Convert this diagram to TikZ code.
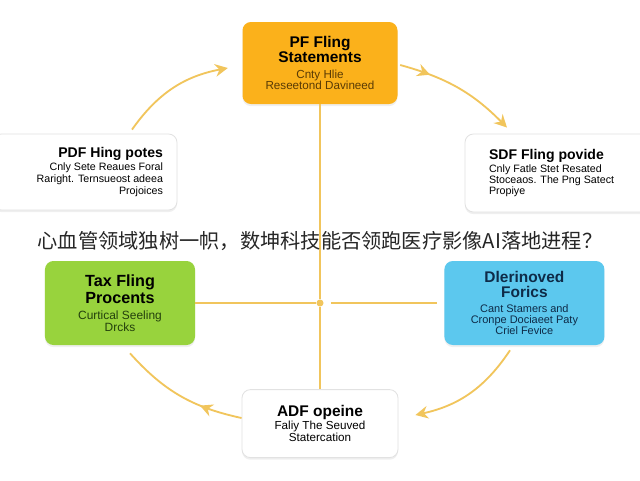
\documentclass[tikz,border=0pt]{standalone}
\usepackage{fontspec}
\setmainfont{Liberation Sans}
\newfontfamily\cjk{Noto Sans CJK SC}
\usetikzlibrary{arrows.meta,decorations.markings,shadows}
\definecolor{boxorange}{HTML}{FBB11B}
\definecolor{boxgreen}{HTML}{98D33D}
\definecolor{boxblue}{HTML}{5CC8EE}
\definecolor{linegold}{HTML}{F1C55C}
\definecolor{rimgray}{HTML}{E2E2E2}
\definecolor{subbrown}{HTML}{5A3B05}
\definecolor{subgreen}{HTML}{23400C}
\definecolor{subnavy}{HTML}{0E2B48}
\newcommand{\cardhead}[2]{{\fontsize{#1}{#1}\selectfont\bfseries #2}}
\begin{document}
\begin{tikzpicture}[>={Stealth[length=9pt,width=9pt,inset=3pt]},
    tile/.style={rounded corners=6pt,draw=none,align=center,
        drop shadow={opacity=0.12,shadow xshift=0pt,shadow yshift=-1.5pt}},
    card/.style={tile,draw=rimgray,line width=0.6pt,fill=white},
    flow/.style={linegold,line width=1.3pt},
    midflow/.style={flow,postaction={decorate,decoration={markings,
        mark=at position #1 with {\arrow{>}}}}},
    spoke/.style={linegold,line width=1.2pt}]
  \fill[white] (-8,-6) rectangle (8,6);
  \useasboundingbox (-8,-6) rectangle (8,6);
  \node[tile,fill=boxorange,minimum width=3.875cm,minimum height=2.05cm,
        font=\fontsize{8.3}{8}\selectfont,text=subbrown] (statements) at (0,4.425)
    {\cardhead{11}{\color{black}PF Fling}\\\cardhead{11}{\color{black}Statements}\\[3pt]
     Cnty Hlie\\Reseetond Davineed};
  \node[card,align=flush right,text width=3.9cm,inner xsep=0.35cm,minimum height=1.9cm,
        font=\fontsize{7.6}{8.3}\selectfont] (pdfnotes) at (-5.875,1.7)
    {\cardhead{10}{PDF Hing potes}\\[1pt]
     Cnly Sete Reaues Foral\\Raright. Ternsueost adeea\\Projoices};
  \node[card,align=flush left,text width=4.2cm,inner xsep=0.6cm,minimum height=1.95cm,
        font=\fontsize{7.6}{8}\selectfont] (provide) at (6.325,1.675)
    {\cardhead{10}{SDF Fling povide}\\[1.5pt]
     Cnly Fatle Stet Resated\\Stoceaos. The Png Satect\\Propiye};
  \node[tile,fill=boxgreen,minimum width=3.75cm,minimum height=2.1cm,
        font=\fontsize{8.5}{8.2}\selectfont,text=subgreen] (taxfiling) at (-5,-1.575)
    {\cardhead{11.5}{\color{black}Tax Fling}\\[0.5pt]\cardhead{11.5}{\color{black}Procents}\\[3.5pt]
     Curtical Seeling\\Drcks};
  \node[tile,fill=boxblue,minimum width=4cm,minimum height=2.1cm,
        font=\fontsize{7.8}{7.8}\selectfont,text=subnavy] (forics) at (5.11,-1.575)
    {\cardhead{11}{Dlerinoved}\\[1.5pt]\cardhead{11}{Forics}\\[3pt]
     Cant Stamers and\\Cronpe Dociaeet Paty\\Criel Fevice};
  \node[card,minimum width=3.9cm,minimum height=1.7cm,
        font=\fontsize{8.3}{7.5}\selectfont] (opeine) at (0,-4.59)
    {\cardhead{11}{ADF opeine}\\
     Faliy The Seuved\\Statercation};
  \node[circle,fill=linegold,inner sep=0pt,minimum size=5pt] (hub) at (0,-1.575) {};
  \draw[spoke] (statements) -- (hub) -- (opeine);
  \draw[spoke,shorten <=5pt,shorten >=5pt] (taxfiling) -- (hub) -- (forics);
  \draw[flow,->] ([xshift=1.175cm,yshift=0.1cm]pdfnotes.north) to[bend left=22] ([xshift=-0.36cm,yshift=-0.125cm]statements.west);
  \draw[midflow=0.25,->] ([xshift=0.06cm,yshift=-0.05cm]statements.east) to[bend left=15] ([xshift=-1.65cm,yshift=0.15cm]provide.north);
  \draw[flow,->] ([xshift=-0.36cm,yshift=-0.125cm]forics.south) to[bend left=22] ([xshift=0.425cm,yshift=0.215cm]opeine.east);
  \draw[midflow=0.33] ([yshift=0.14cm]opeine.west) to[bend left=18] ([xshift=0.25cm,yshift=-0.2cm]taxfiling.south);
  \node[text=black!85] (headline) at (0,-0.025) {\cjk\fontsize{14.4}{16}\selectfont 心血管领域独树一帜，数坤科技能否领跑医疗影像AI落地进程？};
\end{tikzpicture}
\end{document}
